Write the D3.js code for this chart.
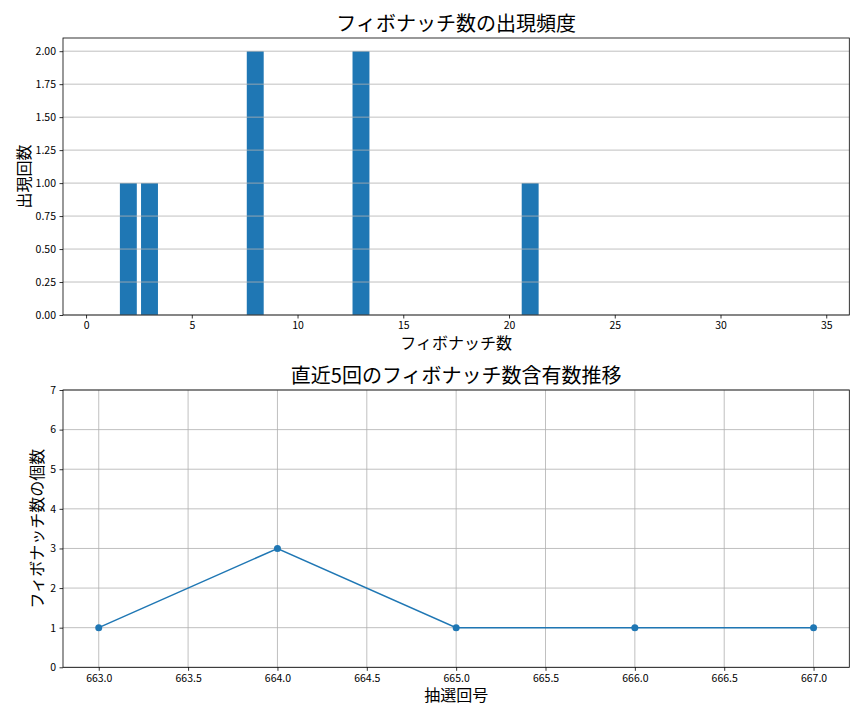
<!DOCTYPE html>
<html>
<head>
<meta charset="utf-8">
<script src="https://cdn.jsdelivr.net/npm/d3@7"></script>
<style>
  body { margin: 0; background: #fff; }
  svg text { font-family: "Noto Sans CJK JP", "Noto Sans", sans-serif; fill: #000; }
</style>
</head>
<body>
<script>
// fibonacci numbers (1..43) and how often each appeared
const fibNumbers = [1, 2, 3, 5, 8, 13, 21, 34];
const fibCounts = [0, 1, 1, 0, 2, 2, 1, 0];
const freqTicks = [0, 5, 10, 15, 20, 25, 30, 35];
const countTicks = [0, 0.25, 0.5, 0.75, 1, 1.25, 1.5, 1.75, 2];

// last 5 draws
const drawNumbers = [663, 664, 665, 666, 667];
const fibPerDraw = [1, 3, 1, 1, 1];
const drawTicks = [663, 663.5, 664, 664.5, 665, 665.5, 666, 666.5, 667];
const perDrawTicks = [0, 1, 2, 3, 4, 5, 6, 7];

const W = 864, H = 720;
const blue = "#1f77b4";
const gridColor = "#b0b0b0";

const svg = d3.select("body").append("svg")
    .attr("width", W)
    .attr("height", H);

function styleAxis(g) {
    g.selectAll(".domain").remove();
    g.selectAll(".tick line").attr("stroke", "#000").attr("stroke-width", 0.8);
    g.selectAll(".tick text").attr("font-size", "10.5px").attr("fill", "#000");
}

function frame(box) {
    svg.append("rect")
        .attr("x", box.left)
        .attr("y", box.top)
        .attr("width", box.right - box.left)
        .attr("height", box.bottom - box.top)
        .attr("fill", "none")
        .attr("stroke", "#000")
        .attr("stroke-width", 0.8);
}

// ---- top: frequency bar chart ----
const upper = { left: 63, right: 849.3, top: 38, bottom: 315 };
const barWidth = 0.8;
const xb0 = d3.min(fibNumbers) - barWidth / 2, xb1 = d3.max(fibNumbers) + barWidth / 2;
const padB = (xb1 - xb0) * 0.05;
const xBar = d3.scaleLinear().domain([xb0 - padB, xb1 + padB]).range([upper.left, upper.right]);
const yBar = d3.scaleLinear().domain([0, d3.max(fibCounts) * 1.05]).range([upper.bottom, upper.top]);

const bars = fibNumbers.map(function (d, i) { return { n: d, c: fibCounts[i] }; });

svg.selectAll(".bar")
    .data(bars)
    .enter().append("rect")
    .attr("class", "bar")
    .attr("x", function (d) { return xBar(d.n - barWidth / 2); })
    .attr("width", function (d) { return xBar(d.n + barWidth / 2) - xBar(d.n - barWidth / 2); })
    .attr("y", function (d) { return yBar(d.c); })
    .attr("height", function (d) { return yBar(0) - yBar(d.c); })
    .attr("fill", blue);

// horizontal grid only, drawn above the bars
svg.append("g").selectAll("line")
    .data(countTicks)
    .enter().append("line")
    .attr("x1", upper.left).attr("x2", upper.right)
    .attr("y1", function (d) { return yBar(d); })
    .attr("y2", function (d) { return yBar(d); })
    .attr("stroke", gridColor)
    .attr("stroke-width", 0.8);

svg.append("g")
    .attr("transform", "translate(0," + upper.bottom + ")")
    .call(d3.axisBottom(xBar).tickValues(freqTicks).tickSize(3.5).tickPadding(3.5))
    .call(styleAxis);

svg.append("g")
    .attr("transform", "translate(" + upper.left + ",0)")
    .call(d3.axisLeft(yBar).tickValues(countTicks).tickFormat(d3.format(".2f")).tickSize(3.5).tickPadding(3.5))
    .call(styleAxis);

frame(upper);

svg.append("text")
    .attr("x", (upper.left + upper.right) / 2).attr("y", 30.5)
    .attr("text-anchor", "middle")
    .attr("font-size", "20px")
    .text("フィボナッチ数の出現頻度");

svg.append("text")
    .attr("x", (upper.left + upper.right) / 2).attr("y", 349)
    .attr("text-anchor", "middle")
    .attr("font-size", "16px")
    .text("フィボナッチ数");

svg.append("text")
    .attr("transform", "translate(29.5," + (upper.top + upper.bottom) / 2 + ") rotate(-90)")
    .attr("text-anchor", "middle")
    .attr("font-size", "16px")
    .text("出現回数");

// ---- bottom: count per draw line chart ----
const lower = { left: 63, right: 849.3, top: 390, bottom: 667.3 };
const padL = (d3.max(drawNumbers) - d3.min(drawNumbers)) * 0.05;
const xLine = d3.scaleLinear()
    .domain([d3.min(drawNumbers) - padL, d3.max(drawNumbers) + padL])
    .range([lower.left, lower.right]);
const yLine = d3.scaleLinear().domain([0, 7]).range([lower.bottom, lower.top]);

const grid = svg.append("g");
grid.selectAll(".vg")
    .data(drawTicks)
    .enter().append("line")
    .attr("x1", function (d) { return xLine(d); })
    .attr("x2", function (d) { return xLine(d); })
    .attr("y1", lower.top).attr("y2", lower.bottom)
    .attr("stroke", gridColor).attr("stroke-width", 0.8);
grid.selectAll(".hg")
    .data(perDrawTicks)
    .enter().append("line")
    .attr("x1", lower.left).attr("x2", lower.right)
    .attr("y1", function (d) { return yLine(d); })
    .attr("y2", function (d) { return yLine(d); })
    .attr("stroke", gridColor).attr("stroke-width", 0.8);

const pts = drawNumbers.map(function (d, i) { return { x: d, y: fibPerDraw[i] }; });

svg.append("path")
    .datum(pts)
    .attr("fill", "none")
    .attr("stroke", blue)
    .attr("stroke-width", 1.5)
    .attr("d", d3.line().x(function (d) { return xLine(d.x); }).y(function (d) { return yLine(d.y); }));

svg.selectAll(".dot")
    .data(pts)
    .enter().append("circle")
    .attr("class", "dot")
    .attr("cx", function (d) { return xLine(d.x); })
    .attr("cy", function (d) { return yLine(d.y); })
    .attr("r", 3.5)
    .attr("fill", blue);

svg.append("g")
    .attr("transform", "translate(0," + lower.bottom + ")")
    .call(d3.axisBottom(xLine).tickValues(drawTicks).tickFormat(d3.format(".1f")).tickSize(3.5).tickPadding(3.5))
    .call(styleAxis);

svg.append("g")
    .attr("transform", "translate(" + lower.left + ",0)")
    .call(d3.axisLeft(yLine).tickValues(perDrawTicks).tickFormat(d3.format("d")).tickSize(3.5).tickPadding(3.5))
    .call(styleAxis);

frame(lower);

svg.append("text")
    .attr("x", (lower.left + lower.right) / 2).attr("y", 382.5)
    .attr("text-anchor", "middle")
    .attr("font-size", "20px")
    .text("直近5回のフィボナッチ数含有数推移");

svg.append("text")
    .attr("x", (lower.left + lower.right) / 2).attr("y", 701)
    .attr("text-anchor", "middle")
    .attr("font-size", "16px")
    .text("抽選回号");

svg.append("text")
    .attr("transform", "translate(43," + (lower.top + lower.bottom) / 2 + ") rotate(-90)")
    .attr("text-anchor", "middle")
    .attr("font-size", "16px")
    .text("フィボナッチ数の個数");
</script>
</body>
</html>
